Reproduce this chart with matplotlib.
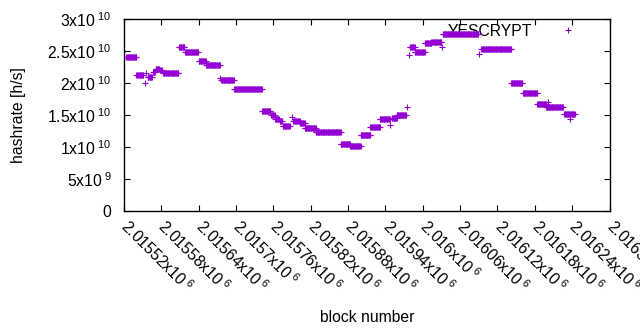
import numpy as np
import matplotlib
matplotlib.use("Agg")
import matplotlib.pyplot as plt

plt.rcParams['font.family'] = ['Liberation Sans', 'DejaVu Sans']
plt.rcParams['mathtext.fontset'] = 'custom'
plt.rcParams['mathtext.rm'] = 'Liberation Sans'
plt.rcParams['mathtext.it'] = 'Liberation Sans:italic'
plt.rcParams['mathtext.bf'] = 'Liberation Sans:bold'

# Step segments of estimated hashrate (block range, value in units of 1e9 h/s)
seg_start = [2015524, 2015540, 2015553, 2015556, 2015558, 2015567, 2015571, 2015578,
             2015583, 2015608, 2015618, 2015640, 2015652, 2015675, 2015676, 2015697,
             2015742, 2015756, 2015763, 2015770, 2015775, 2015790, 2015792, 2015802,
             2015810, 2015828, 2015868, 2015883, 2015900, 2015916, 2015931, 2015948,
             2015950, 2015958, 2015975, 2015978, 2015979, 2015987, 2016003, 2016014,
             2016031, 2016032, 2016090, 2016094, 2016142, 2016161, 2016184, 2016201,
             2016198, 2016227, 2016236]
seg_end = [2015540, 2015551, 2015553, 2015556, 2015565, 2015570, 2015577, 2015581,
           2015607, 2015617, 2015639, 2015651, 2015674, 2015675, 2015696, 2015741,
           2015755, 2015762, 2015769, 2015774, 2015786, 2015790, 2015802, 2015810,
           2015828, 2015868, 2015883, 2015900, 2015916, 2015931, 2015947, 2015948,
           2015958, 2015973, 2015975, 2015978, 2015987, 2016003, 2016014, 2016030,
           2016031, 2016089, 2016090, 2016142, 2016160, 2016184, 2016198, 2016201,
           2016225, 2016244, 2016236]
seg_value = [24.1, 21.2, 19.95, 21.6, 20.9, 21.7, 22.2, 22.0,
             21.5, 25.6, 24.8, 23.5, 22.8, 20.8, 20.4, 19.0,
             15.6, 15.0, 14.3, 14.0, 13.3, 14.7, 14.1, 13.7,
             12.9, 12.3, 10.4, 10.1, 11.8, 13.2, 14.4, 13.5,
             14.6, 14.95, 16.2, 24.4, 25.6, 24.9, 26.2, 26.4,
             25.6, 27.6, 24.5, 25.3, 19.95, 18.4, 16.7, 17.1,
             16.2, 15.2, 14.4]

x_ticks = [2015520 + 60 * i for i in range(14)]
x_tick_labels = ["2.01552", "2.01558", "2.01564", "2.0157", "2.01576", "2.01582",
                 "2.01588", "2.01594", "2.016", "2.01606", "2.01612", "2.01618",
                 "2.01624", "2.0163"]
y_ticks = [0, 5e9, 1e10, 1.5e10, 2e10, 2.5e10, 3e10]
y_tick_labels = ["0", "5x10$^{\\ 9}$", "1x10$^{\\ 10}$", "1.5x10$^{\\ 10}$",
                 "2x10$^{\\ 10}$", "2.5x10$^{\\ 10}$", "3x10$^{\\ 10}$"]

blocks = []
rates = []
for s, e, v in zip(seg_start, seg_end, seg_value):
    b = np.arange(s, e + 1)
    blocks.append(b)
    rates.append(np.full(len(b), v * 1e9))
blocks = np.concatenate(blocks)
rates = np.concatenate(rates)

FS = 11.3
color = '#9400D3'
fig = plt.figure(figsize=(6.4, 3.3), dpi=100)
ax = fig.add_axes([124 / 640, 1 - 211 / 330, (609.5 - 124) / 640, (211 - 19) / 330])
ax.plot(blocks, rates, linestyle='none', marker='+', markersize=5, markeredgewidth=0.8,
        color=color, label='YESCRYPT', zorder=3)
ax.set_xlim(2015520, 2016300)
ax.set_ylim(0, 3e10)
ax.set_xticks(x_ticks)
ax.set_xticklabels([l + "x10$^{\\ 6}$" for l in x_tick_labels], rotation=-45,
                   ha='left', va='center', rotation_mode='anchor', fontsize=FS)
ax.set_yticks(y_ticks)
ax.set_yticklabels(y_tick_labels, fontsize=FS)
ax.tick_params(direction='in', length=4, width=0.8, top=True, right=True, colors='black')
ax.tick_params(axis='y', pad=9)
ax.tick_params(axis='x', pad=9)
for sp in ax.spines.values():
    sp.set_linewidth(1.0)
ax.set_xlabel('block number', fontsize=FS, labelpad=10)
ax.set_ylabel('hashrate [h/s]', fontsize=FS, labelpad=15)

leg = ax.legend(loc='upper right', bbox_to_anchor=(0.9565, 0.975), frameon=False,
                markerfirst=False, handlelength=2.6, handletextpad=1.0, borderpad=0,
                borderaxespad=0, fontsize=FS)
leg.set_zorder(1)

fig.savefig('out.png', dpi=100)
